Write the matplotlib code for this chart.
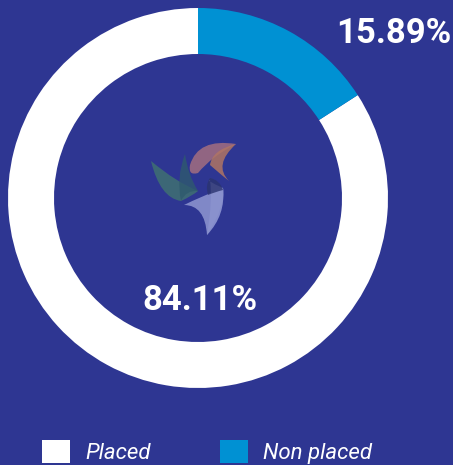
import matplotlib.pyplot as plt
from matplotlib.path import Path
from matplotlib.patches import PathPatch

labels = ["Placed", "Non placed"]
values = [84.11, 15.89]
colors = ["#FFFFFF", "#0091D3"]
pct_text = ["84.11%", "15.89%"]

bg = "#2E3692"
W, H = 453, 465

fig = plt.figure(figsize=(W / 100, H / 100), dpi=100, facecolor=bg)
ax = fig.add_axes([0, 0, 1, 1])
ax.set_facecolor(bg)

cx, cy, r = 198, H - 198, 190

wedges, _ = ax.pie(
    values,
    colors=colors,
    startangle=90,
    center=(cx, cy),
    radius=r,
    wedgeprops=dict(width=46, edgecolor="none"),
    frame=True,
)
ax.set_xlim(0, W)
ax.set_ylim(0, H)
ax.set_aspect("equal")
ax.axis("off")

# percentage labels
ax.text(cx + 2, H - 300, pct_text[0], color="white", fontsize=25,
        fontweight="bold", family="Roboto", ha="center", va="center")
ax.text(394, H - 33, pct_text[1], color="white", fontsize=25,
        fontweight="bold", family="Roboto", ha="center", va="center")


# ---------- center logo (rough) ----------
def blade(p0, c1, p1, c2, p2, c3, color, alpha):
    # outer edge p0 -> p1 -> p2, inner concave edge back to p0
    pts = [p0, c1, p1, c2, p2, c3, p0]
    pts = [(x, H - y) for x, y in pts]
    codes = [Path.MOVETO, Path.CURVE3, Path.CURVE3, Path.CURVE3, Path.CURVE3,
             Path.CURVE3, Path.CURVE3]
    ax.add_patch(PathPatch(Path(pts, codes), facecolor=color, edgecolor="none",
                           alpha=alpha, zorder=3))


blade((151, 161), (160, 198), (181, 201), (192, 196), (198, 191),
      (176, 182), "#3F7072", 0.85)
blade((185, 154), (176, 178), (181, 201), (186, 190), (198, 191),
      (188, 175), "#2F5A6E", 0.8)
blade((236, 144), (198, 138), (190, 165), (188, 176), (198, 173),
      (212, 156), "#A36E80", 0.85)
blade((236, 144), (213, 165), (229, 181), (225, 178), (210, 165),
      (212, 150), "#B07564", 0.85)
blade((207, 235), (226, 215), (223, 188), (205, 180), (210, 180),
      (213, 200), "#8E96D2", 0.9)
blade((184, 205), (200, 197), (223, 188), (226, 205), (207, 235),
      (205, 205), "#8A92CE", 0.9)
blade((210, 178), (220, 180), (223, 190), (215, 192), (208, 195),
      (205, 185), "#2B3470", 0.8)

# ---------- legend ----------
leg = ax.legend(
    wedges, labels,
    loc="lower left",
    bbox_to_anchor=(42 / W, 1 / H),
    ncol=2,
    frameon=False,
    handlelength=1.25,
    handleheight=1.25,
    handletextpad=0.7,
    columnspacing=3.1,
    borderpad=0,
    borderaxespad=0,
    prop=dict(family="Roboto", style="italic", size=16),
)
for t in leg.get_texts():
    t.set_color("white")

plt.savefig("out.png", dpi=100, facecolor=bg)
